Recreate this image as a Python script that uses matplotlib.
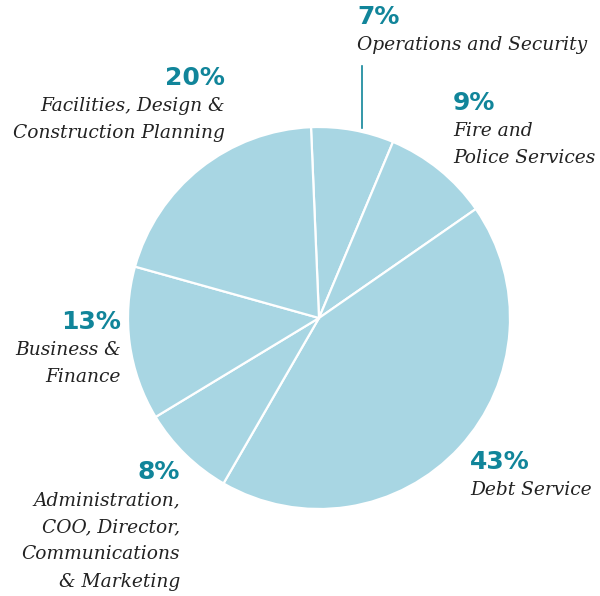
import matplotlib
matplotlib.use("Agg")
import matplotlib.pyplot as plt

# budget shares, clockwise from the top
categories = ["Operations and Security", "Fire and\nPolice Services", "Debt Service",
              "Administration,\nCOO, Director,\nCommunications\n& Marketing",
              "Business &\nFinance", "Facilities, Design &\nConstruction Planning"]
shares = [7, 9, 43, 8, 13, 20]

pie_color = "#a8d6e3"
teal = "#11859a"
W, H = 600, 596

fig = plt.figure(figsize=(W / 100, H / 100), dpi=100)
ax = fig.add_axes([0, 0, 1, 1])

cx, cy, r = 319, H - 318, 191
ax.pie(shares, startangle=92.4, counterclock=False, colors=[pie_color] * len(shares),
       center=(cx, cy), radius=r, frame=True,
       wedgeprops=dict(edgecolor="white", linewidth=1.6))
ax.set_xlim(0, W)
ax.set_ylim(0, H)
ax.set_aspect("equal")
ax.axis("off")

# label anchors (x, y of percent, alignment)
anchors = [(357, 17, "left"), (453, 103, "left"), (470, 462, "left"),
           (180, 472, "right"), (121, 322, "right"), (225, 78, "right")]

for share, name, (x, y, ha) in zip(shares, categories, anchors):
    ax.text(x, H - y, f"{share}%", ha=ha, va="center", color=teal,
            fontsize=18, fontweight="bold", family="DejaVu Sans")
    ax.text(x, H - y - 19, name, ha=ha, va="top", color="#222222",
            fontsize=13.4, fontstyle="italic", family="DejaVu Serif",
            linespacing=1.66, multialignment=ha)

# leader for the thin top slice
ax.plot([362, 362], [H - 66, H - 128], color=teal, lw=1.2)

fig.savefig("out.png", dpi=100)
